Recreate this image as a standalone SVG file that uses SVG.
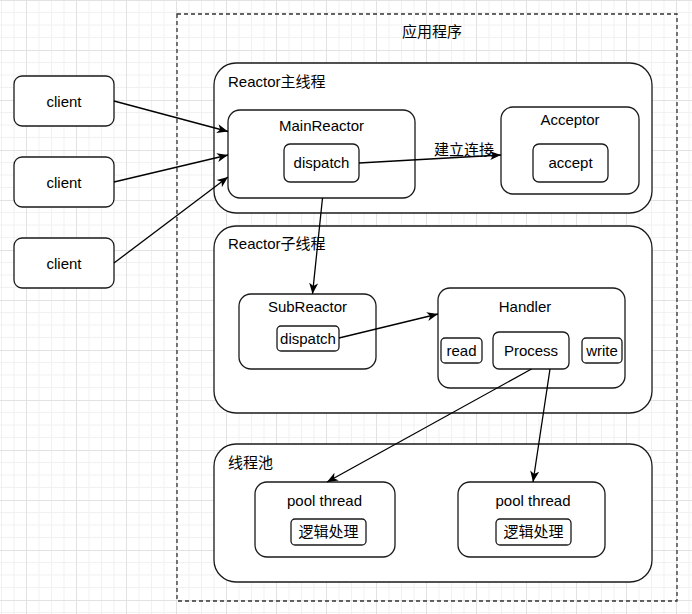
<svg xmlns="http://www.w3.org/2000/svg" width="692" height="614" viewBox="0 0 692 614">
<style>
text{font-family:"Liberation Sans",Arial,"Noto Sans CJK SC",sans-serif;font-size:15px;fill:#000}
.c{text-anchor:middle}
.box{fill:#fff;stroke:#1a1a1a;stroke-width:1.3}
.edge{fill:none;stroke:#000;stroke-width:1.3}
</style>
<defs>
<pattern id="grid" patternUnits="userSpaceOnUse" x="0" y="0" width="50" height="50">
<path d="M1.5 0V50M14 0V50M39 0V50M0 12.5H50M0 25H50M0 37.5H50" stroke="#f1f1f1" stroke-width="1" fill="none"/>
<path d="M26.5 0V50M0 0.5H50" stroke="#e2e2e2" stroke-width="1" fill="none"/>
</pattern>
<marker id="arr" viewBox="0 0 12 10" refX="11" refY="5" markerWidth="12" markerHeight="10" markerUnits="userSpaceOnUse" orient="auto">
<path d="M0,0.5 L11,5 L0,9.5 L3,5 z" fill="#000"/>
</marker>
</defs>
<rect width="692" height="614" fill="#fff"/>
<rect width="692" height="614" fill="url(#grid)"/>

<g id="app">
<rect x="177" y="14" width="500" height="587" fill="none" stroke="#333" stroke-width="1.3" stroke-dasharray="4 3"/>
<text class="c" x="432" y="37">应用程序</text>
</g>

<g id="mainThread">
<rect class="box" x="214" y="63" width="438" height="150" rx="22"/>
<text x="228" y="87">Reactor主线程</text>
</g>
<g id="subThread">
<rect class="box" x="214" y="226" width="438" height="187" rx="22"/>
<text x="228" y="249">Reactor子线程</text>
</g>
<g id="threadPool">
<rect class="box" x="214" y="444" width="438" height="138" rx="22"/>
<text x="228" y="468">线程池</text>
</g>

<g id="client1">
<rect class="box" x="14" y="76" width="100" height="50" rx="8"/>
<text class="c" x="64" y="106.5">client</text>
</g>
<g id="client2">
<rect class="box" x="14" y="157" width="100" height="50" rx="8"/>
<text class="c" x="64" y="187.5">client</text>
</g>
<g id="client3">
<rect class="box" x="14" y="238" width="100" height="50" rx="8"/>
<text class="c" x="64" y="268.5">client</text>
</g>

<g id="mainReactor">
<rect class="box" x="228" y="110" width="187" height="88" rx="12"/>
<text class="c" x="321.5" y="131">MainReactor</text>
<rect class="box" x="284" y="144" width="75" height="38" rx="6"/>
<text class="c" x="321.5" y="168">dispatch</text>
</g>
<g id="acceptor">
<rect class="box" x="501" y="107" width="138" height="87" rx="12"/>
<text class="c" x="570" y="125">Acceptor</text>
<rect class="box" x="533" y="144" width="75" height="38" rx="6"/>
<text class="c" x="570.5" y="168">accept</text>
</g>

<g id="subReactor">
<rect class="box" x="239" y="294" width="137" height="75" rx="12"/>
<text class="c" x="307.5" y="312">SubReactor</text>
<rect class="box" x="277" y="326" width="62" height="25" rx="4"/>
<text class="c" x="308" y="343.5">dispatch</text>
</g>
<g id="handler">
<rect class="box" x="438" y="288" width="187" height="100" rx="12"/>
<text class="c" x="525" y="312">Handler</text>
<rect class="box" x="441" y="338" width="41" height="25" rx="4"/>
<text class="c" x="461.5" y="356">read</text>
<rect class="box" x="493" y="332" width="76" height="37" rx="6"/>
<text class="c" x="531" y="356">Process</text>
<rect class="box" x="582" y="338" width="40" height="25" rx="4"/>
<text class="c" x="602" y="356">write</text>
</g>

<g id="poolThread1">
<rect class="box" x="255" y="482" width="140" height="75" rx="12"/>
<text class="c" x="324.5" y="506">pool thread</text>
<rect class="box" x="291" y="519" width="75" height="26" rx="4"/>
<text class="c" x="328.5" y="537">逻辑处理</text>
</g>
<g id="poolThread2">
<rect class="box" x="458" y="482" width="147" height="75" rx="12"/>
<text class="c" x="533" y="506">pool thread</text>
<rect class="box" x="496" y="519" width="75" height="26" rx="4"/>
<text class="c" x="533.5" y="537">逻辑处理</text>
</g>

<g id="connectors">
<path class="edge" d="M114 101L228 131.5" marker-end="url(#arr)"/>
<path class="edge" d="M114 182L228 155" marker-end="url(#arr)"/>
<path class="edge" d="M114 263L228 177" marker-end="url(#arr)"/>
<path class="edge" d="M359 163L501 155" marker-end="url(#arr)"/>
<text class="c" x="464" y="155">建立连接</text>
<path class="edge" d="M322.5 198L312.5 294" marker-end="url(#arr)"/>
<path class="edge" d="M339 338L438 314" marker-end="url(#arr)"/>
<path class="edge" d="M531.5 369L327 482" marker-end="url(#arr)"/>
<path class="edge" d="M550 369L533 482" marker-end="url(#arr)"/>
</g>
</svg>
